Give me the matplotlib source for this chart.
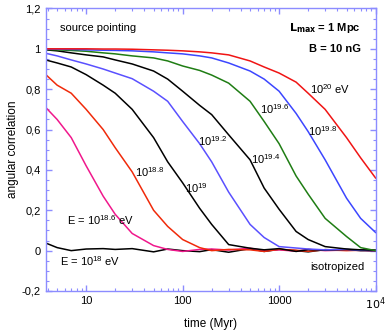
import matplotlib
matplotlib.use("Agg")
import matplotlib.pyplot as plt
from matplotlib.ticker import FixedLocator, FuncFormatter, MultipleLocator, LogLocator

plt.rcParams['font.family'] = ['Liberation Sans', 'DejaVu Sans']

# time grid (Myr)
t = [3.8, 5, 7, 10, 15, 20, 30, 50, 70, 100, 150, 200, 300, 500, 700,
     1000, 1500, 2000, 3000, 5000, 7000, 10000]

# angular correlation for each energy
c_18_0 = [0.038, 0.015, 0.0, 0.008, 0.01, 0.006, 0.01, -0.006, 0.008, 0.0, -0.005,
          0.005, -0.008, 0.01, -0.004, 0.006, 0.0, -0.006, 0.005, 0.002, 0.004, -0.002]
c_18_6 = [0.71, 0.65, 0.56, 0.42, 0.27, 0.18, 0.085, 0.025, 0.006, -0.004, 0.006,
          0.008, 0.003, 0.012, 0.0, 0.004, -0.003, 0.006, 0.0, 0.003, 0.001, 0.0]
c_18_8 = [0.873, 0.82, 0.78, 0.70, 0.60, 0.51, 0.39, 0.20, 0.12, 0.055, 0.015,
          0.0, 0.006, 0.004, -0.004, 0.007, 0.002, -0.003, 0.004, 0.0, 0.002, 0.0]
c_19_0 = [0.945, 0.93, 0.91, 0.872, 0.82, 0.78, 0.70, 0.56, 0.44, 0.336, 0.21,
          0.13, 0.03, 0.012, 0.004, 0.01, -0.004, 0.005, 0.002, 0.006, 0.0, 0.001]
c_19_2 = [0.978, 0.965, 0.945, 0.925, 0.90, 0.88, 0.852, 0.79, 0.74, 0.64, 0.53,
          0.44, 0.29, 0.13, 0.065, 0.02, 0.013, 0.008, 0.004, 0.006, 0.002, 0.0]
c_19_4 = [0.995, 0.99, 0.98, 0.97, 0.96, 0.945, 0.925, 0.89, 0.85, 0.79, 0.72,
          0.674, 0.574, 0.45, 0.31, 0.205, 0.095, 0.055, 0.02, 0.008, 0.004, 0.002]
c_19_6 = [0.997, 0.995, 0.992, 0.988, 0.98, 0.975, 0.965, 0.955, 0.94, 0.915, 0.893,
          0.87, 0.83, 0.74, 0.64, 0.53, 0.37, 0.28, 0.16, 0.07, 0.015, 0.0]
c_19_8 = [0.999, 0.998, 0.997, 0.995, 0.993, 0.992, 0.99, 0.985, 0.98, 0.975, 0.965,
          0.955, 0.93, 0.89, 0.85, 0.79, 0.68, 0.59, 0.45, 0.26, 0.16, 0.09]
c_20_0 = [1.0, 1.0, 1.0, 1.0, 0.999, 0.999, 0.998, 0.995, 0.993, 0.99, 0.985,
          0.98, 0.97, 0.94, 0.91, 0.88, 0.835, 0.78, 0.70, 0.56, 0.46, 0.36]

series = [
    (c_18_0, 'black'),
    (c_18_6, '#f0188c'),
    (c_18_8, '#f02a0a'),
    (c_19_0, 'black'),
    (c_19_2, '#5a50ff'),
    (c_19_4, 'black'),
    (c_19_6, '#1f7d14'),
    (c_19_8, '#3c46ff'),
    (c_20_0, '#f01414'),
]

fig = plt.figure(figsize=(3.9, 3.32), dpi=100)
ax = fig.add_axes([0.117, 0.1235, 0.846, 0.851])

for vals, col in series:
    ax.plot(t, vals, color=col, lw=1.1)

ax.set_xscale('log')
ax.set_xlim(3.8, 1e4)
ax.set_ylim(-0.2, 1.2)

spine_col = '#8c8cff'
for s in ax.spines.values():
    s.set_color(spine_col)
    s.set_linewidth(1.0)

ax.xaxis.set_major_locator(FixedLocator([10, 100, 1000, 10000]))
ax.xaxis.set_minor_locator(LogLocator(base=10, subs=range(2, 10)))
ax.xaxis.set_major_formatter(FuncFormatter(
    lambda v, p: r'$10^4$' if v >= 1e4 else f'{int(v)}'))
ax.xaxis.set_minor_formatter(FuncFormatter(lambda v, p: ''))

ax.yaxis.set_major_locator(MultipleLocator(0.2))
ax.yaxis.set_minor_locator(MultipleLocator(0.05))
ax.yaxis.set_major_formatter(FuncFormatter(
    lambda v, p: f'{v:.1f}'.replace('.', ',').replace(',0', '') if abs(v) > 1e-9 else '0'))

ax.tick_params(which='both', direction='in', top=True, right=True, color=spine_col,
               labelsize=8, labelcolor='black')
ax.tick_params(which='major', length=4, width=1)
ax.tick_params(which='minor', length=2.5, width=0.8)

ax.set_xlabel('time (Myr)', fontsize=8.5, labelpad=4)
ax.set_ylabel('angular correlation', fontsize=8.5, labelpad=2)

fs = 8
ax.text(0.045, 0.93, 'source pointing', transform=ax.transAxes, fontsize=fs, va='center')
ax.text(0.955, 0.93, r'$\mathbf{L_{max}}$' + ' = 1 Mpc', transform=ax.transAxes,
        fontsize=fs, fontweight='bold', ha='right', va='center')
ax.text(0.955, 0.855, 'B = 10 nG', transform=ax.transAxes, fontsize=fs,
        fontweight='bold', ha='right', va='center')

labels = [
    (3400, 0.80, r'$\mathregular{10^{20}}$ eV'),
    (900, 0.70, r'$\mathregular{10^{19.6}}$'),
    (2800, 0.59, r'$\mathregular{10^{19.8}}$'),
    (205, 0.545, r'$\mathregular{10^{19.2}}$'),
    (720, 0.455, r'$\mathregular{10^{19.4}}$'),
    (140, 0.31, r'$\mathregular{10^{19}}$'),
    (45, 0.39, r'$\mathregular{10^{18.8}}$'),
    (14, 0.15, r'E = $\mathregular{10^{18.6}}$ eV'),
    (11, -0.05, r'E = $\mathregular{10^{18}}$ eV'),
    (4000, -0.08, 'isotropized'),
]
for x, y, s in labels:
    ax.text(x, y, s, fontsize=fs, ha='center', va='center')

fig.savefig('out.png', dpi=100)
